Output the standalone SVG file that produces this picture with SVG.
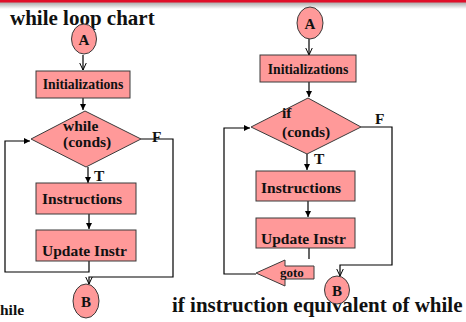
<svg xmlns="http://www.w3.org/2000/svg" width="466" height="322" viewBox="0 0 466 322">
  <defs>
    <linearGradient id="topFade" x1="0" y1="0" x2="0" y2="1">
      <stop offset="0" stop-color="#8c8c8c"/>
      <stop offset="1" stop-color="#ffffff"/>
    </linearGradient>
    <marker id="solid" viewBox="0 0 8 8" refX="8" refY="4" markerWidth="6" markerHeight="6" markerUnits="userSpaceOnUse" orient="auto">
      <path d="M0,0 L8,4 L0,8 z" fill="#000"/>
    </marker>
    <marker id="open" viewBox="0 0 8 8" refX="7.5" refY="4" markerWidth="8" markerHeight="8" markerUnits="userSpaceOnUse" orient="auto">
      <path d="M0,0.5 L7.5,4 L0,7.5" fill="none" stroke="#000" stroke-width="1"/>
    </marker>
    <style>
      .shape { fill: #ff9999; stroke: #3a3a3a; stroke-width: 1; }
      .wire { fill: none; stroke: #000; stroke-width: 1.2; }
      .txt { font-family: "Liberation Serif", "Times New Roman", serif; font-weight: bold; fill: #111; }
      .title { font-size: 21px; }
      .box { font-size: 13.7px; text-anchor: middle; }
      .lbl { font-size: 15.5px; }
      .node { font-size: 15px; text-anchor: middle; }
    </style>
  </defs>

  <!-- header band -->
  <rect x="0" y="0" width="466" height="9" fill="url(#topFade)"/>
  <rect x="0" y="0" width="466" height="2.5" fill="#e0102a"/>

  <!-- titles -->
  <text class="txt title" x="10" y="25">while loop chart</text>
  <text class="txt title" x="172" y="312">if instruction equivalent of while</text>
  <text class="txt lbl" x="0" y="315">hile</text>

  <!-- connectors -->
  <g id="connectors">
    <!-- while chart -->
    <line class="wire" x1="83" y1="55" x2="83" y2="70" marker-end="url(#open)"/>
    <line class="wire" x1="83" y1="98" x2="83" y2="110" marker-end="url(#solid)"/>
    <line class="wire" x1="88" y1="167" x2="88" y2="183" marker-end="url(#solid)"/>
    <line class="wire" x1="89" y1="214" x2="89" y2="229" marker-end="url(#solid)"/>
    <polyline class="wire" points="89,261 89,272 5,272 5,141 30,141" marker-end="url(#solid)"/>
    <polyline class="wire" points="141,139 173,139 173,277 89,277 89,284" marker-end="url(#open)"/>
    <text class="txt lbl" x="94" y="181">T</text>
    <text class="txt lbl" x="152" y="142">F</text>

    <!-- if chart -->
    <line class="wire" x1="309" y1="39" x2="309" y2="55" marker-end="url(#open)"/>
    <line class="wire" x1="309" y1="82" x2="309" y2="97" marker-end="url(#solid)"/>
    <line class="wire" x1="307" y1="154" x2="307" y2="170" marker-end="url(#solid)"/>
    <line class="wire" x1="308" y1="201" x2="308" y2="217" marker-end="url(#solid)"/>
    <line class="wire" x1="309" y1="248" x2="309" y2="259"/>
    <polyline class="wire" points="256,274 224,274 224,128 250,128" marker-end="url(#solid)"/>
    <polyline class="wire" points="361,127 392,127 392,265 340,265 340,276" marker-end="url(#open)"/>
    <text class="txt lbl" x="314" y="164">T</text>
    <text class="txt lbl" x="375" y="124">F</text>
  </g>

  <!-- while chart nodes -->
  <g id="w-start">
    <ellipse class="shape" cx="84" cy="39" rx="12.5" ry="15"/>
    <text class="txt node" x="84" y="44.5">A</text>
  </g>
  <g id="w-init">
    <rect class="shape" x="36" y="71" width="94" height="27"/>
    <text class="txt box" x="83" y="89">Initializations</text>
  </g>
  <g id="w-cond">
    <polygon class="shape" points="85,111 141,139 86,167 31,139"/>
    <text class="txt lbl" x="63" y="131">while</text>
    <text class="txt lbl" x="63" y="147">(conds)</text>
  </g>
  <g id="w-body">
    <rect class="shape" x="36" y="183" width="100" height="31"/>
    <text class="txt lbl" x="42" y="204">Instructions</text>
  </g>
  <g id="w-update">
    <rect class="shape" x="36" y="230" width="100" height="31"/>
    <text class="txt lbl" x="42" y="256">Update Instr</text>
  </g>
  <g id="w-end">
    <ellipse class="shape" cx="86" cy="301" rx="13" ry="17"/>
    <text class="txt node" x="86" y="306.5">B</text>
  </g>

  <!-- if chart nodes -->
  <g id="i-start">
    <ellipse class="shape" cx="310" cy="23" rx="13" ry="16"/>
    <text class="txt node" x="310" y="28.5">A</text>
  </g>
  <g id="i-init">
    <rect class="shape" x="260" y="55" width="96" height="27"/>
    <text class="txt box" x="308" y="74">Initializations</text>
  </g>
  <g id="i-cond">
    <polygon class="shape" points="308,98 361,127 307,154 251,127"/>
    <text class="txt lbl" x="282" y="118">if</text>
    <text class="txt lbl" x="282" y="137">(conds)</text>
  </g>
  <g id="i-body">
    <rect class="shape" x="256" y="171" width="99" height="30"/>
    <text class="txt lbl" x="261" y="193">Instructions</text>
  </g>
  <g id="i-update">
    <rect class="shape" x="256" y="218" width="99" height="30"/>
    <text class="txt lbl" x="261" y="244">Update Instr</text>
  </g>
  <g id="i-goto">
    <polygon class="shape" points="256,273 285,260 285,266 314,266 314,279 285,279 285,286"/>
    <text class="txt" font-size="13" x="280" y="277">goto</text>
  </g>
  <g id="i-end">
    <ellipse class="shape" cx="337" cy="290" rx="12.5" ry="14"/>
    <text class="txt node" x="337" y="295.5">B</text>
  </g>
</svg>
